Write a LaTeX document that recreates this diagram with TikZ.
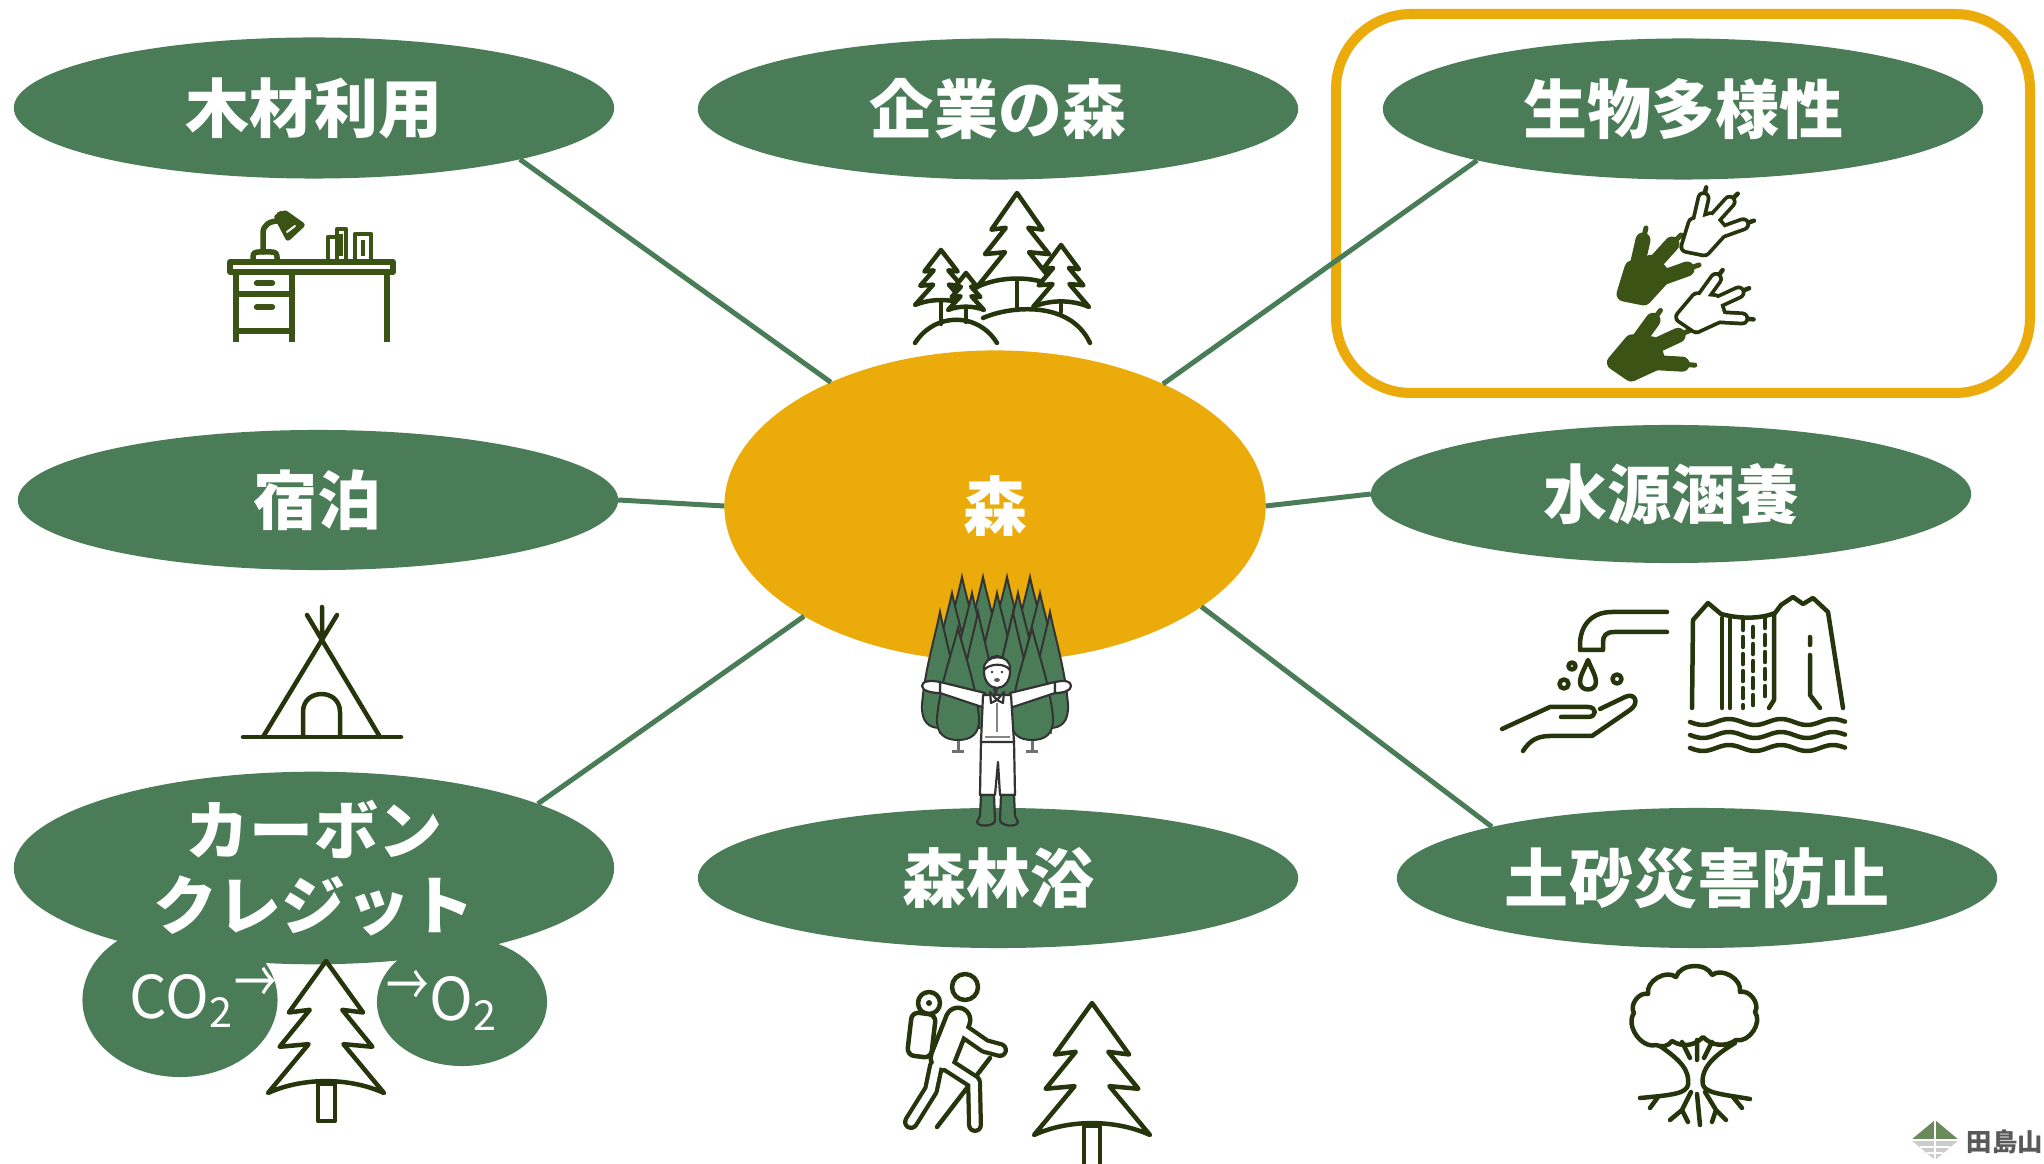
\documentclass[tikz,border=0pt]{standalone}
\usepackage{fontspec}
\usetikzlibrary{shapes.geometric}
\newfontfamily\jpfont{Noto Sans CJK JP}
\definecolor{leaf}{HTML}{4A7D57}
\definecolor{sun}{HTML}{EBAC0B}
\definecolor{ink}{HTML}{27350D}
\definecolor{moss}{HTML}{3B5314}
\definecolor{bark}{HTML}{333333}
\definecolor{crest}{HTML}{6A8A5C}

% three-toed footprint, palm at the origin
\newcommand\footpalm{(-14,12) -- (-6,-14) -- (14,-20) -- (26,-6) -- (6,16) -- cycle}
\newcommand\foottoes{(-6,6) -- (5,-42) (-4,4) -- (34,-38) (-4,6) -- (49,-13)}
\newcommand\footclaws{(5,-42) -- (8,-54) (34,-38) -- (43,-47) (49,-13) -- (61,-17)}
\newcommand\solidfoot[2]{%
  \begin{scope}[shift={#1}, rotate=#2]
    \filldraw[moss, line width=0.15cm, line join=round] \footpalm;
    \draw[moss, line width=0.15cm, line cap=round] \foottoes;
    \draw[moss, line width=0.05cm, line cap=round] \footclaws;
  \end{scope}}
\newcommand\hollowfoot[2]{%
  \begin{scope}[shift={#1}, rotate=#2, scale=0.9]
    \filldraw[ink, line width=0.14cm, line join=round] \footpalm;
    \draw[ink, line width=0.14cm, line cap=round] \foottoes;
    \draw[ink, line width=0.045cm, line cap=round] \footclaws;
    \filldraw[white, line width=0.065cm, line join=round] \footpalm;
    \draw[white, line width=0.065cm, line cap=round] \foottoes;
  \end{scope}}
% hiker limbs
\newcommand\hikerlimbs{(962,1030) -- (985,1046) -- (1000,1050)
    (943,1062) -- (974,1082) -- (975,1125)
    (936,1066) -- (931,1090) -- (911,1122)}
% narrow arrow used in the chemistry labels
\newcommand\chemarrow{\raisebox{0.14cm}{\scalebox{0.72}[1]{→}}}

\tikzset{
  topic/.style={ellipse, fill=leaf, minimum width=6cm, minimum height=1.41cm,
    inner sep=0pt, outer sep=0pt, text=white, align=center,
    font=\jpfont\bfseries\fontsize{18.2pt}{21.4pt}\selectfont},
  bubble/.style={ellipse, fill=leaf, inner sep=0pt, outer sep=0pt},
  link/.style={draw=leaf, line width=0.05cm},
  icon/.style={draw=ink, line width=0.045cm, line cap=round, line join=round},
  desk/.style={draw=moss, line width=0.055cm, line join=round},
  chem/.style={text=white, inner sep=0pt, font=\jpfont\fontsize{16.8pt}{19pt}\selectfont},
  figline/.style={draw=bark, line width=0.022cm, line join=round},
  pics/conifer/.style={code={
    \path[pic actions] (0,0) -- (-0.64,0.39) -- (-0.28,0.37) -- (-0.8,0.65) -- (-0.3,0.63)
      -- (-1,1) .. controls (-0.4,0.88) and (0.4,0.88) .. (1,1) -- (0.3,0.63) -- (0.8,0.65)
      -- (0.28,0.37) -- (0.64,0.39) -- cycle;}},
  pics/cypress/.style={code={
    \path[pic actions] (0,0) .. controls (0.25,0.2) and (0.85,0.5) .. (1,0.8)
      .. controls (1.05,0.95) and (0.6,1) .. (0,1) .. controls (-0.6,1) and (-1.05,0.95) .. (-1,0.8)
      .. controls (-0.85,0.5) and (-0.25,0.2) .. (0,0) -- cycle;}},
}

\begin{document}
\begin{tikzpicture}[x=0.01cm, y=-0.01cm]
\useasboundingbox (0,0) rectangle (2044,1164);
\fill[white] (0,0) rectangle (2044,1164);

% highlight frame
\draw[sun, line width=0.1cm, rounded corners=0.75cm] (1336,14) rectangle (2030,393);

% CO2 / O2 bubbles
\node[bubble, minimum width=1.95cm, minimum height=1.54cm] (co2) at (180,1000) {};
\node[bubble, minimum width=1.70cm, minimum height=1.28cm] (o2) at (462,1002) {};

% topics
\node[topic] (wood) at (314,108) {木材利用};
\node[topic] (corp) at (998,109) {企業の森};
\node[topic] (bio) at (1683,109) {生物多様性};
\node[topic, minimum height=1.40cm] (stay) at (318,500) {宿泊};
\node[topic, minimum height=1.38cm] (water) at (1671,494) {水源涵養};
\node[topic, minimum height=1.62cm] (carbon) at (314,868) {カーボン\\クレジット};
\node[topic, minimum height=1.40cm] (bath) at (998,878) {森林浴};
\node[topic, minimum height=1.40cm] (slope) at (1697,878) {土砂災害防止};
\node[topic, fill=sun, minimum width=5.41cm, minimum height=3.11cm] (forest) at (995,506) {森};

% connectors
\draw[link] (wood.-14) -- (forest.143);
\draw[link] (bio.-166) -- (forest.36);
\draw[link] (stay.0) -- (forest.180);
\draw[link] (forest.0) -- (water.180);
\draw[link] (carbon.16) -- (forest.210);
\draw[link] (slope.166) -- (forest.-26);

% chemistry labels
\node[chem, anchor=base west] (co2txt) at (129,1018) {CO\textsubscript{2}\chemarrow};
\node[chem, anchor=base west] (o2txt) at (386,1021) {\chemarrow O\textsubscript{2}};

% ---- desk ----
\draw[desk] (230,262) rectangle (393,272);
\draw[desk] (236,272) -- (236,342) (292,272) -- (292,342) (236,294) -- (292,294)
  (236,331) -- (292,331) (387,272) -- (387,342);
\draw[desk, line width=0.065cm, line cap=round] (257,283) -- (272,283) (257,307) -- (272,307);
\draw[desk] (253,261) -- (253,257) .. controls (253,253) and (255,252) .. (259,252) -- (271,252)
  .. controls (275,252) and (277,253) .. (277,257) -- (277,261);
\draw[desk, line cap=round] (263,252) -- (263,233) .. controls (263,225) and (270,221) .. (278,221);
\filldraw[desk, fill=moss] (277,217) -- (285,213) -- (302,225) -- (288,238) -- cycle;
\fill[moss] (281,216) circle[radius=5];
\draw[white, line width=0.02cm, line cap=round] (287,232) -- (295,226);
\draw[desk, line width=0.045cm] (328,237) rectangle (337,261) (337,229) rectangle (346,261)
  (355,234) rectangle (371,261);
\draw[desk, line width=0.035cm] (341,234) -- (341,256) (363,240) -- (363,256);

% ---- company forest ----
\pic[icon, fill=white, xscale=40, yscale=94] at (1017,193) {conifer};
\pic[icon, fill=white, xscale=26, yscale=55] at (941,250) {conifer};
\pic[icon, fill=white, xscale=18, yscale=37] at (966,273) {conifer};
\pic[icon, fill=white, xscale=28, yscale=62] at (1061,245) {conifer};
\draw[icon] (1017,282) -- (1017,310) (941,301) -- (941,324) (966,307) -- (966,322) (1061,302) -- (1061,312);
\draw[icon] (915,343) .. controls (935,312) and (978,312) .. (997,343);
\draw[icon] (983,318) .. controls (1010,306) and (1070,300) .. (1090,343);

% ---- footprints ----
\solidfoot{(1638,282)}{0}
\solidfoot{(1632,357)}{-23}
\hollowfoot{(1699,236)}{0}
\hollowfoot{(1697,312)}{-23}

% ---- tent ----
\draw[icon] (243,737) -- (401,737);
\draw[icon] (263,737) -- (337,615) (380,737) -- (307,615) (322,639) -- (322,607);
\draw[icon] (303,737) -- (303,712) .. controls (303,688) and (340,688) .. (340,712) -- (340,737);

% ---- tap and hand ----
\draw[icon] (1667,612) -- (1612,612) .. controls (1592,612) and (1580,625) .. (1580,645)
  -- (1580,650) -- (1603,650) -- (1603,642) .. controls (1603,636) and (1606,632) .. (1614,632) -- (1667,632);
\draw[icon] (1588,660) .. controls (1584,670) and (1580,676) .. (1580,682)
  .. controls (1580,692) and (1596,692) .. (1596,682) .. controls (1596,676) and (1592,670) .. (1588,660) -- cycle;
\draw[icon] (1572,666) circle[radius=3.5] (1564,684) circle[radius=4.5] (1617,679) circle[radius=4.5];
\draw[icon] (1502,729) -- (1550,707) -- (1588,707) .. controls (1597,707) and (1597,717) .. (1588,717) -- (1561,717);
\draw[icon] (1523,751) .. controls (1530,740) and (1538,736) .. (1550,736) -- (1592,736) -- (1630,710)
  .. controls (1640,703) and (1635,692) .. (1625,697) -- (1600,709);

% ---- waterfall ----
\draw[icon] (1692,708) -- (1693,620) -- (1708,603) -- (1721,614) .. controls (1740,619) and (1760,619) .. (1775,613)
  -- (1781,605) -- (1793,597) -- (1803,604) -- (1813,598) -- (1828,612) -- (1843,708);
\draw[icon] (1722,618) -- (1722,708) (1730,619) -- (1730,708);
\draw[icon, dash pattern=on 0.1cm off 0.07cm] (1743,620) -- (1743,708) (1753,627) -- (1753,708) (1765,618) -- (1765,700);
\draw[icon] (1774,614) -- (1774,700) -- (1769,708);
\draw[icon] (1810,637) -- (1810,645) (1810,655) -- (1810,695) -- (1820,708);
\foreach \w in {722,735,748}
  \draw[icon] plot[domain=0:155, samples=70] ({1690+\x}, {\w + 3*sin(\x*6.923)});

% ---- carbon tree ----
\draw[icon] (318,1084) rectangle (335,1121);
\pic[icon, fill=white, xscale=58, yscale=132] at (326,961) {conifer};

% ---- hiker ----
\draw[icon] (990,1058) -- (937,1127);
\draw[icon, fill=white, rounded corners=0.07cm] (912,1012) -- (936,1015) -- (931,1058) -- (907,1055) -- cycle;
\draw[icon] (929,1003) circle[radius=11];
\fill[ink] (929,1003) circle[radius=3];
\draw[icon] (965,987) circle[radius=13];
\draw[ink, line width=0.29cm, line cap=round] (958,1020) -- (943,1058);
\draw[ink, line width=0.16cm, line cap=round, line join=round] \hikerlimbs;
\draw[white, line width=0.2cm, line cap=round] (958,1020) -- (943,1058);
\draw[white, line width=0.075cm, line cap=round, line join=round] \hikerlimbs;

% ---- bathing tree ----
\draw[icon] (1084,1126) rectangle (1100,1180);
\pic[icon, fill=white, xscale=58, yscale=132] at (1092,1003) {conifer};

% ---- rooted tree ----
\draw[icon, fill=white] (1656,1045) to[bend left=70] (1634,1013) to[bend left=70] (1648,994)
  to[bend left=70] (1676,977) to[bend left=70] (1712,975) to[bend left=70] (1740,992)
  to[bend left=70] (1755,1012) to[bend left=70] (1736,1040) to[bend left=40] (1703,1037)
  to[bend left=40] (1672,1041) to[bend left=40] cycle;
\draw[icon] (1660,1046) .. controls (1680,1060) and (1690,1070) .. (1688,1085)
  .. controls (1686,1093) and (1675,1095) .. (1640,1098);
\draw[icon] (1735,1043) .. controls (1715,1055) and (1700,1068) .. (1703,1085)
  .. controls (1706,1093) and (1720,1094) .. (1750,1099);
\draw[icon] (1682,1042) -- (1690,1058) (1697,1040) -- (1697,1060) (1712,1042) -- (1704,1058);
\draw[icon] (1691,1092) -- (1682,1110) -- (1670,1120) (1682,1110) -- (1688,1122)
  (1697,1094) -- (1700,1125) (1705,1092) -- (1716,1110) -- (1726,1120) (1716,1110) -- (1712,1122)
  (1658,1097) -- (1650,1108) (1733,1097) -- (1742,1108);

% ---- centre figure: grove ----
\foreach \x in {962,983,1007,1030}
  \pic[fill=leaf, draw=bark, line width=0.02cm, xscale=19, yscale=115] at (\x,577) {cypress};
\foreach \x in {952,972,997,1018,1040}
  \pic[fill=leaf, draw=bark, line width=0.02cm, xscale=19, yscale=115] at (\x,593) {cypress};
\draw[bark!70, line width=0.03cm] (940,726) -- (940,734) (1050,726) -- (1050,734)
  (958,738) -- (958,752) (952,752) -- (964,752) (1032,738) -- (1032,752) (1026,752) -- (1038,752);
\foreach \x in {940,978,1013,1050}
  \pic[fill=leaf, draw=bark, line width=0.02cm, xscale=18, yscale=116] at (\x,612) {cypress};
\foreach \x in {958,1032}
  \pic[fill=leaf, draw=bark, line width=0.02cm, xscale=21, yscale=112] at (\x,628) {cypress};

% ---- centre figure: person ----
\filldraw[figline, fill=white] (985,693) -- (940,682) -- (940,693) -- (985,708) -- cycle;
\filldraw[figline, fill=white] (940,682) .. controls (930,680) and (922,681) .. (922,686)
  .. controls (922,691) and (932,693) .. (940,693) -- cycle;
\filldraw[figline, fill=white] (1010,693) -- (1055,682) -- (1055,693) -- (1010,708) -- cycle;
\filldraw[figline, fill=white] (1055,682) .. controls (1065,680) and (1071,681) .. (1071,686)
  .. controls (1071,691) and (1063,693) .. (1055,693) -- cycle;
\filldraw[figline, fill=white] (981,740) -- (1014,740) -- (1015,795) -- (1000,795) -- (998,762)
  -- (995,795) -- (980,795) -- cycle;
\filldraw[figline, fill=leaf] (981,795) -- (994,795) -- (995,820) .. controls (996,826) and (978,828) .. (977,822) -- (980,816) -- cycle;
\filldraw[figline, fill=leaf] (1001,795) -- (1014,795) -- (1015,816) -- (1018,822) .. controls (1017,828) and (1000,826) .. (1000,820) -- cycle;
\filldraw[figline, fill=white] (983,695) -- (1011,695) -- (1014,742) -- (981,742) -- cycle;
\draw[bark!60, line width=0.02cm] (997,703) -- (997,732) (985,737) -- (1010,737);
\filldraw[figline, fill=white] (990,692) -- (997,700) -- (991,703) -- cycle;
\filldraw[figline, fill=white] (1004,692) -- (997,700) -- (1003,703) -- cycle;
\filldraw[figline, fill=white] (997,672) ellipse[x radius=13, y radius=16];
\filldraw[figline, fill=white] (984,670) .. controls (982,654) and (1012,652) .. (1010,670)
  .. controls (1005,663) and (990,663) .. (984,670) -- cycle;
\fill[bark] (992,672) circle[radius=1.3] (1002,672) circle[radius=1.3];
\fill[bark!80] (997,680) ellipse[x radius=3, y radius=2];

% ---- emblem ----
\fill[crest] (1911,1140) -- (1935,1120) -- (1959,1140) -- cycle;
\fill[gray!40] (1911,1140) -- (1935,1160) -- (1959,1140) -- cycle;
\draw[white, line width=0.025cm] (1935,1120) -- (1935,1160) (1911,1140) -- (1959,1140)
  (1920,1147) -- (1950,1147) (1927,1153) -- (1943,1153);
\node[anchor=west, inner sep=0pt, text=gray!70!black, font=\jpfont\bfseries\fontsize{7.2pt}{8pt}\selectfont] (brand) at (1966,1142) {田島山};
\end{tikzpicture}
\end{document}
